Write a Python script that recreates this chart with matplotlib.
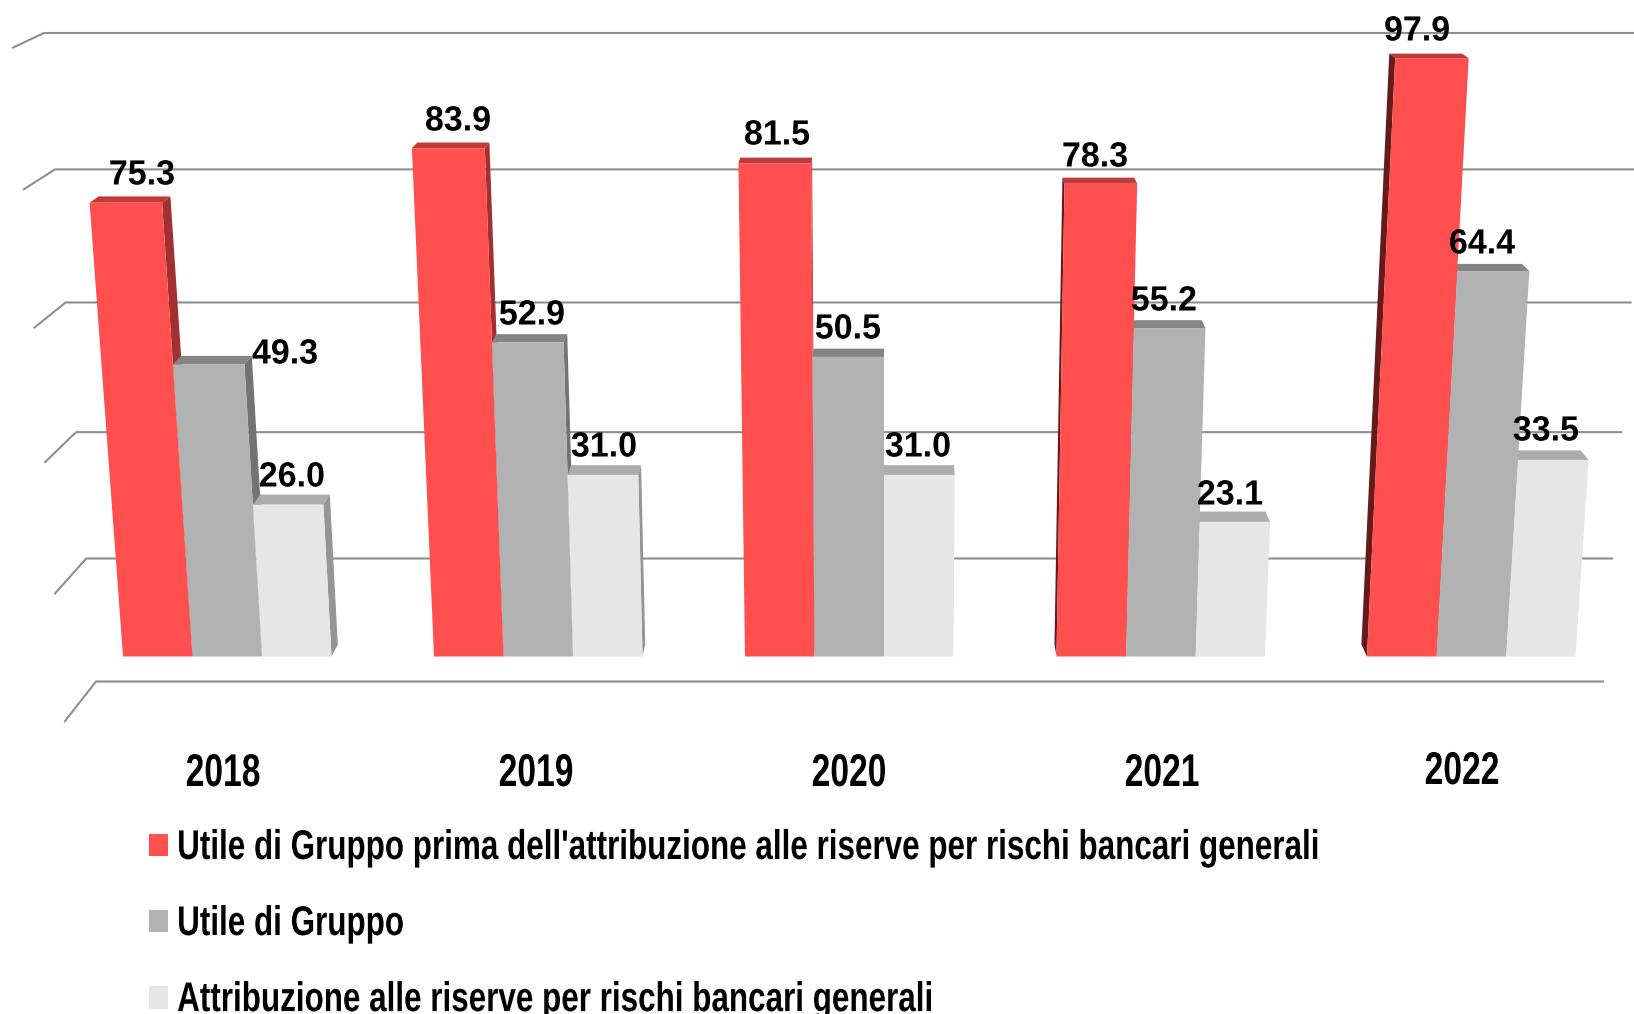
import matplotlib
matplotlib.use("Agg")
import matplotlib.pyplot as plt
from matplotlib.patches import Polygon, Patch
from matplotlib.patheffects import AbstractPathEffect
from matplotlib.transforms import Affine2D

YEARS = ["2018", "2019", "2020", "2021", "2022"]
SERIES_NAMES = ["Utile di Gruppo prima dell'attribuzione alle riserve per rischi bancari generali",
                "Utile di Gruppo",
                "Attribuzione alle riserve per rischi bancari generali"]
UTILE_PRIMA = [75.3, 83.9, 81.5, 78.3, 97.9]
UTILE = [49.3, 52.9, 50.5, 55.2, 64.4]
ATTRIBUZIONE = [26.0, 31.0, 31.0, 23.1, 33.5]
GRID_VALUES = [0, 20, 40, 60, 80, 100]

# layout (pixels of the 1634x1014 canvas)
W, H = 1634, 1014
BASE_Y, VP_X = 656.5, 882.0
GROUP_LEFT = [123, 434, 745, 1056.5, 1367]
BAR_W = 69.5
YEAR_POS = [(223, 775), (536, 775), (849, 775), (1162, 775), (1462, 773)]
LABEL_POS = [
    [(142, 176), (458, 122), (777, 136), (1095, 158), (1417, 32)],
    [(285, 355), (532, 316), (848, 330), (1164, 302), (1482, 245)],
    [(292, 478), (604, 448), (918, 448), (1230, 496), (1546, 432)],
]
FACES = [("#FF4F4F", "#C03A3A", "#A33030", "#661A1A"),
         ("#B2B2B2", "#858585", "#737373", "#5A5A5A"),
         ("#E6E6E6", "#ACACAC", "#959595", "#808080")]
GRID_COLOR = "#8E8E8E"


class Stretch(AbstractPathEffect):
    """Draw text with its glyphs scaled, as the source squeezes its text."""

    def __init__(self, sx, sy, center=False, dy=0.0):
        super().__init__()
        self.sx, self.sy, self.center, self.dy = sx, sy, center, dy

    def draw_path(self, renderer, gc, tpath, affine, rgbFace=None):
        cx = 0.0
        if self.center:
            ext = tpath.get_extents()
            cx = (ext.x0 + ext.x1) / 2
        t = (Affine2D().translate(-cx, 0).scale(self.sx, self.sy).translate(cx, 0)
             + affine + Affine2D().translate(0, self.dy))
        renderer.draw_path(gc, tpath, t, rgbFace)


def bar_height(v):
    return 5.74 * v + 0.0038 * v * v


def wall_height(v):
    return 6.066 * v + 0.00419 * v * v


def project(x, h, depth=10300.0):
    return VP_X + (x - VP_X) * (1 + h / depth), BASE_Y - h


def recede(point, h):
    x, y = point
    return x + (VP_X - x) * 0.0115, y - (12 - 0.0125 * h)


fig = plt.figure(figsize=(W / 100, H / 100), dpi=100)
ax = fig.add_axes([0, 0, 1, 1])
ax.set_xlim(0, W)
ax.set_ylim(H, 0)
ax.axis("off")

# back wall and its left side
for v in GRID_VALUES:
    h = wall_height(v)
    y = 681.5 - h
    xl = 885 + (96 - 885) * (1 + h / 9842)
    xr = 885 + (1603 - 885) * (1 + h / 9842)
    dy = 39.6 - 25 * h / 648.5
    ax.plot([xl - 31, xl, xr], [y + dy, y, y], color=GRID_COLOR, lw=1.5,
            zorder=1, solid_joinstyle="miter")

# bars
values = [UTILE_PRIMA, UTILE, ATTRIBUZIONE]
for g, left in enumerate(GROUP_LEFT):
    order = range(3) if left + BAR_W < VP_X else range(2, -1, -1)
    z = 2.0
    for s in order:
        v = values[s][g]
        h = bar_height(v)
        x0 = left + s * BAR_W
        x1 = x0 + BAR_W
        bl, br = project(x0, 0), project(x1, 0)
        tl, tr = project(x0, h), project(x1, h)
        front, top_c, right_c, left_c = FACES[s]
        btl, btr = recede(tl, h), recede(tr, h)
        ax.add_patch(Polygon([tl, tr, btr, btl], fc=top_c, ec="none", zorder=z))
        z += 0.01
        if recede(br, 0)[0] > br[0]:
            ax.add_patch(Polygon([br, tr, btr, recede(br, 0)], fc=right_c, ec="none", zorder=z))
        if recede(bl, 0)[0] < bl[0]:
            ax.add_patch(Polygon([bl, tl, btl, recede(bl, 0)], fc=left_c, ec="none", zorder=z))
        z += 0.01
        ax.add_patch(Polygon([bl, br, tr, tl], fc=front, ec="none", zorder=4 + 0.01 * s))

# value labels
for s, series in enumerate(values):
    for g, v in enumerate(series):
        x, y = LABEL_POS[s][g]
        ax.text(x, y, f"{v:.1f}", ha="center", va="center", family="Liberation Sans",
                weight="bold", fontsize=24, color="black", zorder=10,
                path_effects=[Stretch(1.02, 1.05, center=True)])

# category labels
for label, (x, y) in zip(YEARS, YEAR_POS):
    ax.text(x, y, label, ha="center", va="center", family="Liberation Sans", weight="bold",
            fontsize=29, color="black", zorder=10,
            path_effects=[Stretch(0.835, 1.14, center=True)])

# legend
handles = [Patch(fc=FACES[i][0], ec="none", label=SERIES_NAMES[i]) for i in range(3)]
leg = ax.legend(handles=handles, loc="upper left", bbox_to_anchor=(149 / W, 1 - 831 / H),
                bbox_transform=fig.transFigure, frameon=False, borderpad=0, borderaxespad=0,
                prop={"family": "Liberation Sans", "weight": "bold", "size": 26},
                labelspacing=1.137, handlelength=0.53, handleheight=0.575, handletextpad=0.25)
for t in leg.get_texts():
    t.set_path_effects([Stretch(0.87, 1.15, dy=-1)])

fig.savefig("out.png", dpi=100)
